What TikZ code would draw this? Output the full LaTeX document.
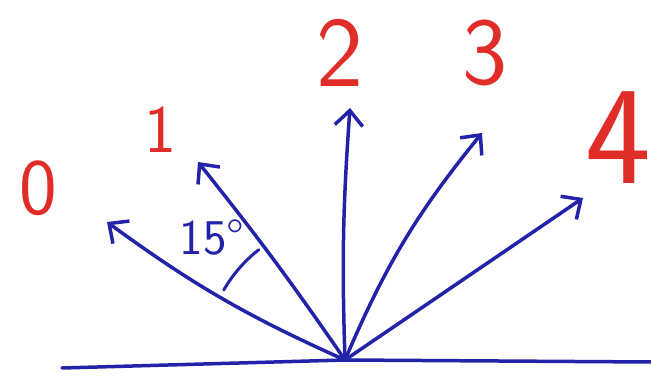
\documentclass[tikz,border=0pt]{standalone}
\usepackage{xcolor}
\usepackage{tikz}
\usetikzlibrary{arrows.meta,positioning,calc}

\definecolor{penblue}{RGB}{35,35,170}
\definecolor{penred}{RGB}{225,45,40}

\begin{document}
\begin{tikzpicture}[
    x=1pt, y=1pt,
    ray/.style={penblue, line width=3.5pt, line cap=round, -{Straight Barb[length=15pt,width=28pt,line width=3.5pt]}},
    base/.style={penblue, line width=3.5pt, line cap=round},
    num/.style={text=penred, inner sep=0pt, font=\sffamily\fontsize{#1}{#1}\selectfont},
    angle/.style={penblue, line width=3pt, line cap=round}
]
\useasboundingbox (0,0) rectangle (651,380);

% Ground line and origin
\coordinate (origin) at (345,20);
\coordinate (left) at (62,12);
\coordinate (right) at (651,18);
\draw [base] (left) -- (origin) -- (right);

% Arrow tips
\coordinate (tip0) at (107,158);
\coordinate (tip1) at (198,218);
\coordinate (tip2) at (350,272);
\coordinate (tip3) at (482,247);
\coordinate (tip4) at (583,182);

% Labels
\node [num=80] (n0) at (38,192) {0};
\node [num=68] (n1) at (160,250) {1};
\node [num=100] (n2) at (340,327) {2};
\node [num=96] (n3) at (485,327) {3};
\node [num=140] (n4) at (618,242) {4};

% Arrows
\draw [ray] (origin) to[bend left=6] (tip0);
\draw [ray] (origin) to[bend right=2] (tip1);
\draw [ray] (origin) to[bend left=3] (tip2);
\draw [ray] (origin) to[bend left=8] (tip3);
\draw [ray] (origin) -- (tip4);

% Angle mark
\node [text=penblue, inner sep=0pt, font=\sffamily\fontsize{50}{50}\selectfont] (deg) at (212,142) {15°};
\draw [angle] ($(origin)+(150:140)$) arc[start angle=150, end angle=128, radius=140];

\end{tikzpicture}
\end{document}
